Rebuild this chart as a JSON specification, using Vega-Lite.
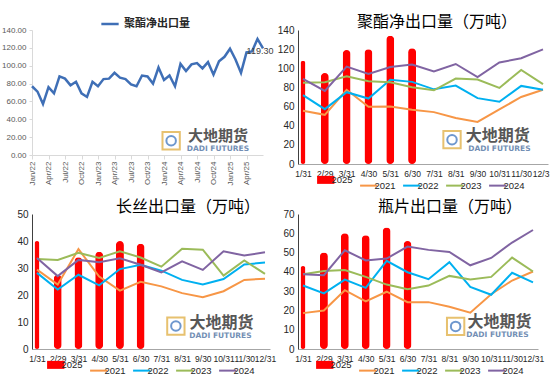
{
  "$schema": "https://vega.github.io/schema/vega-lite/v6.json",
  "background": "white",
  "padding": {"left": 1, "top": 14, "right": 2, "bottom": 2},
  "columns": 2,
  "bounds": "flush",
  "spacing": {"row": 50, "column": 28},
  "resolve": {"scale": {"x": "independent", "y": "independent", "color": "independent"}, "axis": {"x": "independent", "y": "independent"}, "legend": {"color": "independent"}},
  "config": {"view": {"stroke": null}, "font": "Noto Sans CJK SC", "axis": {"grid": false, "labelOverlap": false}},
  "datasets": {
    "tl": [
      {"i":0,"v":77},{"i":1,"v":71},{"i":2,"v":57},{"i":3,"v":76},{"i":4,"v":69},{"i":5,"v":88},{"i":6,"v":85.5},{"i":7,"v":78},{"i":8,"v":82},{"i":9,"v":69},{"i":10,"v":65},{"i":11,"v":82},{"i":12,"v":77},{"i":13,"v":85},{"i":14,"v":85.5},{"i":15,"v":92},{"i":16,"v":86.6},{"i":17,"v":85},{"i":18,"v":79},{"i":19,"v":77},{"i":20,"v":89},{"i":21,"v":88},{"i":22,"v":80},{"i":23,"v":98},{"i":24,"v":84},{"i":25,"v":89},{"i":26,"v":77},{"i":27,"v":102},{"i":28,"v":94},{"i":29,"v":101.5},{"i":30,"v":103},{"i":31,"v":97},{"i":32,"v":104},{"i":33,"v":90},{"i":34,"v":105},{"i":35,"v":110},{"i":36,"v":119},{"i":37,"v":107},{"i":38,"v":92},{"i":39,"v":115},{"i":40,"v":116},{"i":41,"v":130},{"i":42,"v":119.3}
    ],
    "tr": [
      {"m":1,"s":"2025","v":108},{"m":2,"s":"2025","v":95},{"m":3,"s":"2025","v":119},{"m":4,"s":"2025","v":120},{"m":5,"s":"2025","v":134},{"m":6,"s":"2025","v":121},
      {"m":1,"s":"2021","v":55.6},{"m":2,"s":"2021","v":51.4},{"m":3,"s":"2021","v":77.5},{"m":4,"s":"2021","v":59.7},{"m":5,"s":"2021","v":60},{"m":6,"s":"2021","v":56.6},{"m":7,"s":"2021","v":54.2},{"m":8,"s":"2021","v":48},{"m":9,"s":"2021","v":44},{"m":10,"s":"2021","v":57},{"m":11,"s":"2021","v":70},{"m":12,"s":"2021","v":77.5},
      {"m":1,"s":"2022","v":72},{"m":2,"s":"2022","v":57.3},{"m":3,"s":"2022","v":75},{"m":4,"s":"2022","v":68.4},{"m":5,"s":"2022","v":88},{"m":6,"s":"2022","v":85.8},{"m":7,"s":"2022","v":78},{"m":8,"s":"2022","v":82},{"m":9,"s":"2022","v":68.8},{"m":10,"s":"2022","v":65},{"m":11,"s":"2022","v":81.6},{"m":12,"s":"2022","v":77.5},
      {"m":1,"s":"2023","v":85},{"m":2,"s":"2023","v":85.4},{"m":3,"s":"2023","v":91.7},{"m":4,"s":"2023","v":86.5},{"m":5,"s":"2023","v":85.4},{"m":6,"s":"2023","v":80.2},{"m":7,"s":"2023","v":77},{"m":8,"s":"2023","v":89.3},{"m":9,"s":"2023","v":88.2},{"m":10,"s":"2023","v":79.5},{"m":11,"s":"2023","v":98.3},{"m":12,"s":"2023","v":83.4},
      {"m":1,"s":"2024","v":89},{"m":2,"s":"2024","v":76.4},{"m":3,"s":"2024","v":101.8},{"m":4,"s":"2024","v":94},{"m":5,"s":"2024","v":101.4},{"m":6,"s":"2024","v":103.9},{"m":7,"s":"2024","v":96.6},{"m":8,"s":"2024","v":104.5},{"m":9,"s":"2024","v":90.7},{"m":10,"s":"2024","v":106},{"m":11,"s":"2024","v":110.5},{"m":12,"s":"2024","v":119.8}
    ],
    "bl": [
      {"m":1,"s":"2025","v":40},{"m":2,"s":"2025","v":27.5},{"m":3,"s":"2025","v":34},{"m":4,"s":"2025","v":36},{"m":5,"s":"2025","v":40},{"m":6,"s":"2025","v":39},
      {"m":1,"s":"2021","v":29.4},{"m":2,"s":"2021","v":23.9},{"m":3,"s":"2021","v":37},{"m":4,"s":"2021","v":26.8},{"m":5,"s":"2021","v":21.6},{"m":6,"s":"2021","v":24.9},{"m":7,"s":"2021","v":23.2},{"m":8,"s":"2021","v":20.7},{"m":9,"s":"2021","v":19.2},{"m":10,"s":"2021","v":21.4},{"m":11,"s":"2021","v":25.6},{"m":12,"s":"2021","v":26},
      {"m":1,"s":"2022","v":28.2},{"m":2,"s":"2022","v":22},{"m":3,"s":"2022","v":27.5},{"m":4,"s":"2022","v":23.6},{"m":5,"s":"2022","v":29.6},{"m":6,"s":"2022","v":31.2},{"m":7,"s":"2022","v":29},{"m":8,"s":"2022","v":25.6},{"m":9,"s":"2022","v":23.9},{"m":10,"s":"2022","v":25.9},{"m":11,"s":"2022","v":31.3},{"m":12,"s":"2022","v":32},
      {"m":1,"s":"2023","v":33.3},{"m":2,"s":"2023","v":33},{"m":3,"s":"2023","v":35.6},{"m":4,"s":"2023","v":33.7},{"m":5,"s":"2023","v":36.2},{"m":6,"s":"2023","v":33.9},{"m":7,"s":"2023","v":30.5},{"m":8,"s":"2023","v":37.1},{"m":9,"s":"2023","v":36.8},{"m":10,"s":"2023","v":27.2},{"m":11,"s":"2023","v":32.8},{"m":12,"s":"2023","v":27.8},
      {"m":1,"s":"2024","v":33.7},{"m":2,"s":"2024","v":27},{"m":3,"s":"2024","v":33},{"m":4,"s":"2024","v":32.1},{"m":5,"s":"2024","v":33.6},{"m":6,"s":"2024","v":31.2},{"m":7,"s":"2024","v":28.4},{"m":8,"s":"2024","v":32.5},{"m":9,"s":"2024","v":29.3},{"m":10,"s":"2024","v":36.2},{"m":11,"s":"2024","v":34.6},{"m":12,"s":"2024","v":35.8}
    ],
    "br": [
      {"m":1,"s":"2025","v":43},{"m":2,"s":"2025","v":50},{"m":3,"s":"2025","v":60},{"m":4,"s":"2025","v":59},{"m":5,"s":"2025","v":63},{"m":6,"s":"2025","v":56},
      {"m":1,"s":"2021","v":18.6},{"m":2,"s":"2021","v":20},{"m":3,"s":"2021","v":30.5},{"m":4,"s":"2021","v":24.7},{"m":5,"s":"2021","v":29.7},{"m":6,"s":"2021","v":24.3},{"m":7,"s":"2021","v":24.3},{"m":8,"s":"2021","v":21.9},{"m":9,"s":"2021","v":18.8},{"m":10,"s":"2021","v":28.4},{"m":11,"s":"2021","v":35.5},{"m":12,"s":"2021","v":40.2},
      {"m":1,"s":"2022","v":32.9},{"m":2,"s":"2022","v":28.8},{"m":3,"s":"2022","v":36},{"m":4,"s":"2022","v":31.7},{"m":5,"s":"2022","v":45.7},{"m":6,"s":"2022","v":39.8},{"m":7,"s":"2022","v":36.2},{"m":8,"s":"2022","v":45},{"m":9,"s":"2022","v":32.2},{"m":10,"s":"2022","v":28.1},{"m":11,"s":"2022","v":39.5},{"m":12,"s":"2022","v":34.5},
      {"m":1,"s":"2023","v":38.8},{"m":2,"s":"2023","v":40.5},{"m":3,"s":"2023","v":41},{"m":4,"s":"2023","v":37.4},{"m":5,"s":"2023","v":33.4},{"m":6,"s":"2023","v":31},{"m":7,"s":"2023","v":32.9},{"m":8,"s":"2023","v":37.9},{"m":9,"s":"2023","v":36},{"m":10,"s":"2023","v":37.4},{"m":11,"s":"2023","v":47.4},{"m":12,"s":"2023","v":40.2},
      {"m":1,"s":"2024","v":38.8},{"m":2,"s":"2024","v":38.3},{"m":3,"s":"2024","v":51.2},{"m":4,"s":"2024","v":45.9},{"m":5,"s":"2024","v":46.9},{"m":6,"s":"2024","v":53.1},{"m":7,"s":"2024","v":51.4},{"m":8,"s":"2024","v":50.3},{"m":9,"s":"2024","v":43.4},{"m":10,"s":"2024","v":47.2},{"m":11,"s":"2024","v":55.2},{"m":12,"s":"2024","v":61.7}
    ]
  },
  "concat": [
    {
      "width": 231, "height": 125,
      "data": {"name": "tl"},
      "encoding": {
        "x": {"field": "i", "type": "quantitative", "scale": {"domain": [0, 42], "nice": false},
          "axis": {"title": null, "values": [0,3,6,9,12,15,18,21,24,27,30,33,36,39], "labelExpr": "['Jan','Apr','Jul','Oct'][(datum.value/3)%4] + '/' + (22 + floor(datum.value/12))", "labelAngle": 270, "labelFontSize": 8, "labelFont": "Liberation Sans", "labelColor": "#595959", "domainColor": "#D9D9D9", "tickColor": "#D9D9D9", "tickSize": 4, "labelPadding": 2, "labelOverlap": false}},
        "y": {"field": "v", "type": "quantitative", "scale": {"domain": [0, 140], "nice": false},
          "axis": {"title": null, "values": [0,20,40,60,80,100,120,140], "format": ".2f", "labelFontSize": 8, "labelFont": "Liberation Sans", "labelColor": "#595959", "domainColor": "#D9D9D9", "tickColor": "#D9D9D9", "tickSize": 3, "labelPadding": 3, "labelOverlap": false}}
      },
      "layer": [
        {
          "mark": {"type": "line", "strokeWidth": 2.5},
          "encoding": {
            "color": {"datum": "聚酯净出口量", "type": "nominal", "scale": {"range": ["#3F6FB6"]},
              "legend": {"orient": "none", "legendX": 68, "legendY": -16, "title": null, "symbolType": "stroke", "symbolStrokeWidth": 2.5, "symbolSize": 300, "labelFontSize": 11, "labelFontWeight": "bold", "labelColor": "#262626", "padding": 0}}
          }
        },
        {
          "transform": [{"filter": "datum.i === 42"}],
          "mark": {"type": "text", "fontSize": 9, "font": "Liberation Sans", "color": "#404040", "dx": -3, "dy": 3},
          "encoding": {"text": {"field": "v", "format": ".2f"}}
        },
        {"transform": [{"filter": "datum.i === 0"}], "mark": {"type": "point", "shape": "square", "size": 300, "stroke": "#E2B24C", "strokeWidth": 2, "filled": false, "opacity": 0.8}, "encoding": {"x": {"datum": 25.3}, "y": {"datum": 16}}},
        {"transform": [{"filter": "datum.i === 0"}], "mark": {"type": "point", "shape": "circle", "size": 90, "stroke": "#4A7EC2", "strokeWidth": 2, "filled": false, "opacity": 0.8}, "encoding": {"x": {"datum": 25.3}, "y": {"datum": 16}}},
        {"transform": [{"filter": "datum.i === 0"}], "mark": {"type": "text", "text": "大地期货", "fontSize": 15, "fontWeight": "bold", "color": "#3A3A3A", "opacity": 0.85}, "encoding": {"x": {"datum": 33.8}, "y": {"datum": 21}}},
        {"transform": [{"filter": "datum.i === 0"}], "mark": {"type": "text", "text": "DADI FUTURES", "fontSize": 7.5, "font": "DejaVu Sans", "fontWeight": "bold", "color": "#5A7BA8", "opacity": 0.85}, "encoding": {"x": {"datum": 33.8}, "y": {"datum": 6.5}}}
      ]
    },
    {
      "width": 250, "height": 134,
      "title": {"text": "聚酯净出口量（万吨）", "fontSize": 16, "fontWeight": "normal", "color": "#000000", "offset": -5, "frame": "group", "anchor": "middle", "dx": 14},
      "data": {"name": "tr"},
      "encoding": {
        "x": {"field": "m", "type": "quantitative", "scale": {"domain": [1, 12], "nice": false, "zero": false},
          "axis": {"title": null, "values": [1,2,3,4,5,6,7,8,9,10,11,12], "labelExpr": "['1/31','2/29','3/31','4/30','5/31','6/30','7/31','8/31','9/30','10/31','11/30','12/31'][datum.value-1]", "ticks": false, "domainColor": "#A6A6A6", "labelFontSize": 8.5, "labelFont": "Liberation Sans", "labelColor": "#262626", "labelFlush": false, "labelOverlap": false, "labelPadding": 5}},
        "y": {"field": "v", "type": "quantitative", "scale": {"domain": [0, 140], "nice": false},
          "axis": {"title": null, "values": [0,20,40,60,80,100,120,140], "ticks": false, "domainColor": "#404040", "labelFontSize": 10, "labelFont": "Liberation Sans", "labelColor": "#262626", "labelPadding": 4, "labelOverlap": false}}
      },
      "layer": [
        {
          "transform": [{"filter": "datum.s === '2025'"}],
          "mark": {"type": "bar", "cornerRadius": 4, "orient": "vertical"},
          "encoding": {
            "size": {"condition": {"test": "datum.m === 1", "value": 5}, "value": 8},
            "color": {"field": "s", "type": "nominal", "scale": {"domain": ["2025","2021","2022","2023","2024"], "range": ["#FF0000","#F79646","#00B0F0","#9BBB59","#8064A2"]},
              "legend": {"orient": "none", "legendX": 23, "legendY": 145, "direction": "horizontal", "title": null, "symbolType": "stroke", "symbolSize": 300, "symbolStrokeWidth": 2, "labelFontSize": 9.5, "labelFont": "Liberation Sans", "labelColor": "#262626", "padding": 0, "columnPadding": 3, "labelOffset": 1,
                "encode": {"symbols": {"update": {"fill": {"value": "transparent"}, "strokeCap": {"value": "butt"}, "strokeWidth": {"signal": "datum.value === '2025' ? 8 : 2"}, "stroke": {"signal": "datum.value === '2025' ? '#FF0000' : datum.value === '2021' ? '#F79646' : datum.value === '2022' ? '#00B0F0' : datum.value === '2023' ? '#9BBB59' : '#8064A2'"}, "opacity": {"value": 1}}}}}}
          }
        },
        {
          "transform": [{"filter": "datum.s !== '2025'"}],
          "mark": {"type": "line", "strokeWidth": 2},
          "encoding": {"color": {"field": "s", "type": "nominal"}}
        },
        {"transform": [{"filter": "datum.m === 1 && datum.s === '2021'"}], "mark": {"type": "point", "shape": "square", "size": 300, "stroke": "#E2B24C", "strokeWidth": 2, "filled": false, "opacity": 0.8}, "encoding": {"x": {"datum": 7.83}, "y": {"datum": 25.4}}},
        {"transform": [{"filter": "datum.m === 1 && datum.s === '2021'"}], "mark": {"type": "point", "shape": "circle", "size": 90, "stroke": "#4A7EC2", "strokeWidth": 2, "filled": false, "opacity": 0.8}, "encoding": {"x": {"datum": 7.83}, "y": {"datum": 25.4}}},
        {"transform": [{"filter": "datum.m === 1 && datum.s === '2021'"}], "mark": {"type": "text", "text": "大地期货", "fontSize": 16, "fontWeight": "bold", "color": "#3A3A3A", "opacity": 0.85}, "encoding": {"x": {"datum": 9.93}, "y": {"datum": 29}}},
        {"transform": [{"filter": "datum.m === 1 && datum.s === '2021'"}], "mark": {"type": "text", "text": "DADI FUTURES", "fontSize": 7.5, "font": "DejaVu Sans", "fontWeight": "bold", "color": "#5A7BA8", "opacity": 0.85}, "encoding": {"x": {"datum": 10.0}, "y": {"datum": 15.8}}}
      ]
    },
    {
      "width": 238, "height": 135,
      "title": {"text": "长丝出口量（万吨）", "fontSize": 16, "fontWeight": "normal", "color": "#000000", "offset": -6, "frame": "group", "anchor": "middle", "dx": 37},
      "data": {"name": "bl"},
      "encoding": {
        "x": {"field": "m", "type": "quantitative", "scale": {"domain": [1, 12], "nice": false, "zero": false},
          "axis": {"title": null, "values": [1,2,3,4,5,6,7,8,9,10,11,12], "labelExpr": "['1/31','2/29','3/31','4/30','5/31','6/30','7/31','8/31','9/30','10/31','11/30','12/31'][datum.value-1]", "ticks": false, "domainColor": "#A6A6A6", "labelFontSize": 8.5, "labelFont": "Liberation Sans", "labelColor": "#262626", "labelFlush": false, "labelOverlap": false, "labelPadding": 5}},
        "y": {"field": "v", "type": "quantitative", "scale": {"domain": [0, 50], "nice": false},
          "axis": {"title": null, "values": [0,10,20,30,40,50], "ticks": false, "domainColor": "#404040", "labelFontSize": 10, "labelFont": "Liberation Sans", "labelColor": "#262626", "labelPadding": 4, "labelOverlap": false}}
      },
      "layer": [
        {
          "transform": [{"filter": "datum.s === '2025'"}],
          "mark": {"type": "bar", "cornerRadius": 4, "orient": "vertical"},
          "encoding": {
            "size": {"condition": {"test": "datum.m === 1", "value": 5}, "value": 8},
            "color": {"field": "s", "type": "nominal", "scale": {"domain": ["2025","2021","2022","2023","2024"], "range": ["#FF0000","#F79646","#00B0F0","#9BBB59","#8064A2"]},
              "legend": {"orient": "none", "legendX": 19, "legendY": 146, "direction": "horizontal", "title": null, "symbolType": "stroke", "symbolSize": 300, "symbolStrokeWidth": 2, "labelFontSize": 9.5, "labelFont": "Liberation Sans", "labelColor": "#262626", "padding": 0, "columnPadding": 3, "labelOffset": 1,
                "encode": {"symbols": {"update": {"fill": {"value": "transparent"}, "strokeCap": {"value": "butt"}, "strokeWidth": {"signal": "datum.value === '2025' ? 8 : 2"}, "stroke": {"signal": "datum.value === '2025' ? '#FF0000' : datum.value === '2021' ? '#F79646' : datum.value === '2022' ? '#00B0F0' : datum.value === '2023' ? '#9BBB59' : '#8064A2'"}, "opacity": {"value": 1}}}}}}
          }
        },
        {
          "transform": [{"filter": "datum.s !== '2025'"}],
          "mark": {"type": "line", "strokeWidth": 2},
          "encoding": {"color": {"field": "s", "type": "nominal"}}
        },
        {"transform": [{"filter": "datum.m === 1 && datum.s === '2021'"}], "mark": {"type": "point", "shape": "square", "size": 300, "stroke": "#E2B24C", "strokeWidth": 2, "filled": false, "opacity": 0.8}, "encoding": {"x": {"datum": 7.7}, "y": {"datum": 8.5}}},
        {"transform": [{"filter": "datum.m === 1 && datum.s === '2021'"}], "mark": {"type": "point", "shape": "circle", "size": 90, "stroke": "#4A7EC2", "strokeWidth": 2, "filled": false, "opacity": 0.8}, "encoding": {"x": {"datum": 7.7}, "y": {"datum": 8.5}}},
        {"transform": [{"filter": "datum.m === 1 && datum.s === '2021'"}], "mark": {"type": "text", "text": "大地期货", "fontSize": 16, "fontWeight": "bold", "color": "#3A3A3A", "opacity": 0.85}, "encoding": {"x": {"datum": 9.9}, "y": {"datum": 9.8}}},
        {"transform": [{"filter": "datum.m === 1 && datum.s === '2021'"}], "mark": {"type": "text", "text": "DADI FUTURES", "fontSize": 7.5, "font": "DejaVu Sans", "fontWeight": "bold", "color": "#5A7BA8", "opacity": 0.85}, "encoding": {"x": {"datum": 9.85}, "y": {"datum": 5.0}}}
      ]
    },
    {
      "width": 240, "height": 135,
      "title": {"text": "瓶片出口量（万吨）", "fontSize": 16, "fontWeight": "normal", "color": "#000000", "offset": -6, "frame": "group", "anchor": "middle", "dx": 32},
      "data": {"name": "br"},
      "encoding": {
        "x": {"field": "m", "type": "quantitative", "scale": {"domain": [1, 12], "nice": false, "zero": false},
          "axis": {"title": null, "values": [1,2,3,4,5,6,7,8,9,10,11,12], "labelExpr": "['1/31','2/29','3/31','4/30','5/31','6/30','7/31','8/31','9/30','10/31','11/30','12/31'][datum.value-1]", "ticks": false, "domainColor": "#A6A6A6", "labelFontSize": 8.5, "labelFont": "Liberation Sans", "labelColor": "#262626", "labelFlush": false, "labelOverlap": false, "labelPadding": 5}},
        "y": {"field": "v", "type": "quantitative", "scale": {"domain": [0, 70], "nice": false},
          "axis": {"title": null, "values": [0,10,20,30,40,50,60,70], "ticks": false, "domainColor": "#404040", "labelFontSize": 10, "labelFont": "Liberation Sans", "labelColor": "#262626", "labelPadding": 4, "labelOverlap": false}}
      },
      "layer": [
        {
          "transform": [{"filter": "datum.s === '2025'"}],
          "mark": {"type": "bar", "cornerRadius": 4, "orient": "vertical"},
          "encoding": {
            "size": {"condition": {"test": "datum.m === 1", "value": 5}, "value": 8},
            "color": {"field": "s", "type": "nominal", "scale": {"domain": ["2025","2021","2022","2023","2024"], "range": ["#FF0000","#F79646","#00B0F0","#9BBB59","#8064A2"]},
              "legend": {"orient": "none", "legendX": 22, "legendY": 146, "direction": "horizontal", "title": null, "symbolType": "stroke", "symbolSize": 300, "symbolStrokeWidth": 2, "labelFontSize": 9.5, "labelFont": "Liberation Sans", "labelColor": "#262626", "padding": 0, "columnPadding": 3, "labelOffset": 1,
                "encode": {"symbols": {"update": {"fill": {"value": "transparent"}, "strokeCap": {"value": "butt"}, "strokeWidth": {"signal": "datum.value === '2025' ? 8 : 2"}, "stroke": {"signal": "datum.value === '2025' ? '#FF0000' : datum.value === '2021' ? '#F79646' : datum.value === '2022' ? '#00B0F0' : datum.value === '2023' ? '#9BBB59' : '#8064A2'"}, "opacity": {"value": 1}}}}}}
          }
        },
        {
          "transform": [{"filter": "datum.s !== '2025'"}],
          "mark": {"type": "line", "strokeWidth": 2},
          "encoding": {"color": {"field": "s", "type": "nominal"}}
        },
        {"transform": [{"filter": "datum.m === 1 && datum.s === '2021'"}], "mark": {"type": "point", "shape": "square", "size": 300, "stroke": "#E2B24C", "strokeWidth": 2, "filled": false, "opacity": 0.8}, "encoding": {"x": {"datum": 8.3}, "y": {"datum": 11.7}}},
        {"transform": [{"filter": "datum.m === 1 && datum.s === '2021'"}], "mark": {"type": "point", "shape": "circle", "size": 90, "stroke": "#4A7EC2", "strokeWidth": 2, "filled": false, "opacity": 0.8}, "encoding": {"x": {"datum": 8.3}, "y": {"datum": 11.7}}},
        {"transform": [{"filter": "datum.m === 1 && datum.s === '2021'"}], "mark": {"type": "text", "text": "大地期货", "fontSize": 16, "fontWeight": "bold", "color": "#3A3A3A", "opacity": 0.85}, "encoding": {"x": {"datum": 10.4}, "y": {"datum": 13.8}}},
        {"transform": [{"filter": "datum.m === 1 && datum.s === '2021'"}], "mark": {"type": "text", "text": "DADI FUTURES", "fontSize": 7.5, "font": "DejaVu Sans", "fontWeight": "bold", "color": "#5A7BA8", "opacity": 0.85}, "encoding": {"x": {"datum": 10.3}, "y": {"datum": 7.2}}}
      ]
    }
  ]
}
